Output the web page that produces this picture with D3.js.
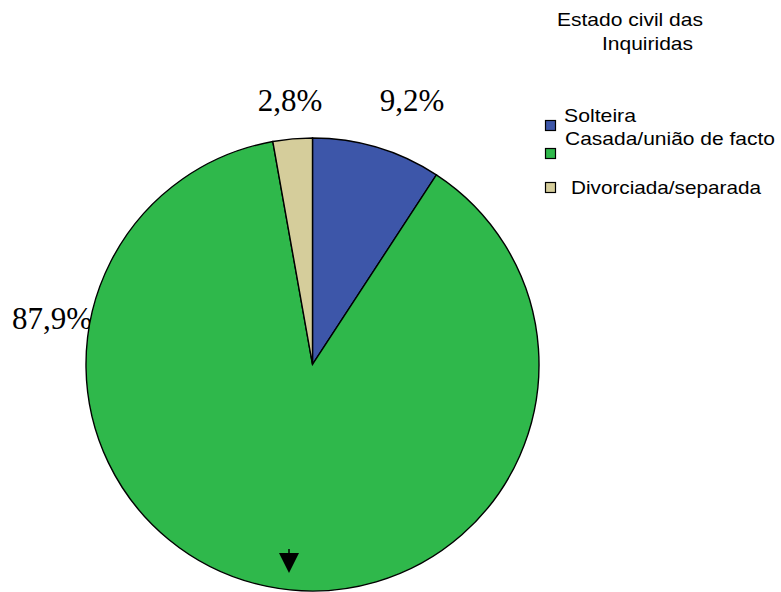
<!DOCTYPE html>
<html>
<head>
<meta charset="utf-8">
<script src="https://cdn.jsdelivr.net/npm/d3@7"></script>
<style>
  html, body { margin: 0; padding: 0; background: #fff; }
  svg { display: block; }
</style>
</head>
<body>
<svg id="chart" width="781" height="592"></svg>
<script>
// Estado civil das inquiridas (%)
const categories = ["Solteira", "Casada/união de facto", "Divorciada/separada"];
const values = [9.2, 87.9, 2.8];
const valueLabels = ["9,2%", "87,9%", "2,8%"];
const colors = ["#3D56A9", "#2FB84B", "#D5CD9B"];
const titleLines = ["Estado civil das", "Inquiridas"];

const W = 781, H = 592;
const cx = 312.5, cy = 364.5, R = 226.5;

const svg = d3.select("#chart");

const pie = d3.pie().sort(null).value(d => d)(values);
const arc = d3.arc().innerRadius(0).outerRadius(R);

// Percent labels sit beneath the pie (the pie overlaps the 87,9% label)
const labelPos = [
  { x: 412, y: 111 },
  { x: 52, y: 329 },
  { x: 290, y: 111 }
];
svg.append("g")
  .selectAll("text")
  .data(pie)
  .join("text")
  .attr("x", (d, i) => labelPos[i].x)
  .attr("y", (d, i) => labelPos[i].y)
  .attr("text-anchor", "middle")
  .attr("font-family", "'Liberation Serif', 'Times New Roman', serif")
  .attr("font-size", 31)
  .attr("fill", "#000")
  .text((d, i) => valueLabels[i]);

const g = svg.append("g").attr("transform", `translate(${cx},${cy})`);
g.selectAll("path")
  .data(pie)
  .join("path")
  .attr("d", arc)
  .attr("fill", (d, i) => colors[i])
  .attr("stroke", "#000")
  .attr("stroke-width", 1.4)
  .attr("stroke-linejoin", "miter");

// Small pointer marker near the bottom of the pie
svg.append("line")
  .attr("x1", 289).attr("y1", 549).attr("x2", 289).attr("y2", 556)
  .attr("stroke", "#000").attr("stroke-width", 1.5);
svg.append("path")
  .attr("d", "M279,553 L299,553 L289,573 Z")
  .attr("fill", "#000");

// Legend
const legend = svg.append("g").attr("font-family", "Arial, 'Liberation Sans', sans-serif").attr("fill", "#000");
const title = legend.append("g");
title.append("text").attr("x", 557).attr("y", 26).attr("font-size", 18.5)
  .attr("textLength", 146).attr("lengthAdjust", "spacingAndGlyphs").text(titleLines[0]);
title.append("text").attr("x", 602).attr("y", 50).attr("font-size", 18.5)
  .attr("textLength", 91).attr("lengthAdjust", "spacingAndGlyphs").text(titleLines[1]);

const items = [
  { sq: 120, tx: 564, ty: 122, len: 72 },
  { sq: 148, tx: 565, ty: 145, len: 210 },
  { sq: 182, tx: 571, ty: 194, len: 190 }
];
const li = legend.selectAll("g.item")
  .data(categories)
  .join("g").attr("class", "item");
li.append("rect")
  .attr("x", 545.5)
  .attr("y", (d, i) => items[i].sq + 0.5)
  .attr("width", 10)
  .attr("height", 10)
  .attr("fill", (d, i) => colors[i])
  .attr("stroke", "#000")
  .attr("stroke-width", 1.2);
li.append("text")
  .attr("x", (d, i) => items[i].tx)
  .attr("y", (d, i) => items[i].ty)
  .attr("font-size", 18.5)
  .attr("textLength", (d, i) => items[i].len)
  .attr("lengthAdjust", "spacingAndGlyphs")
  .text(d => d);
</script>
</body>
</html>
